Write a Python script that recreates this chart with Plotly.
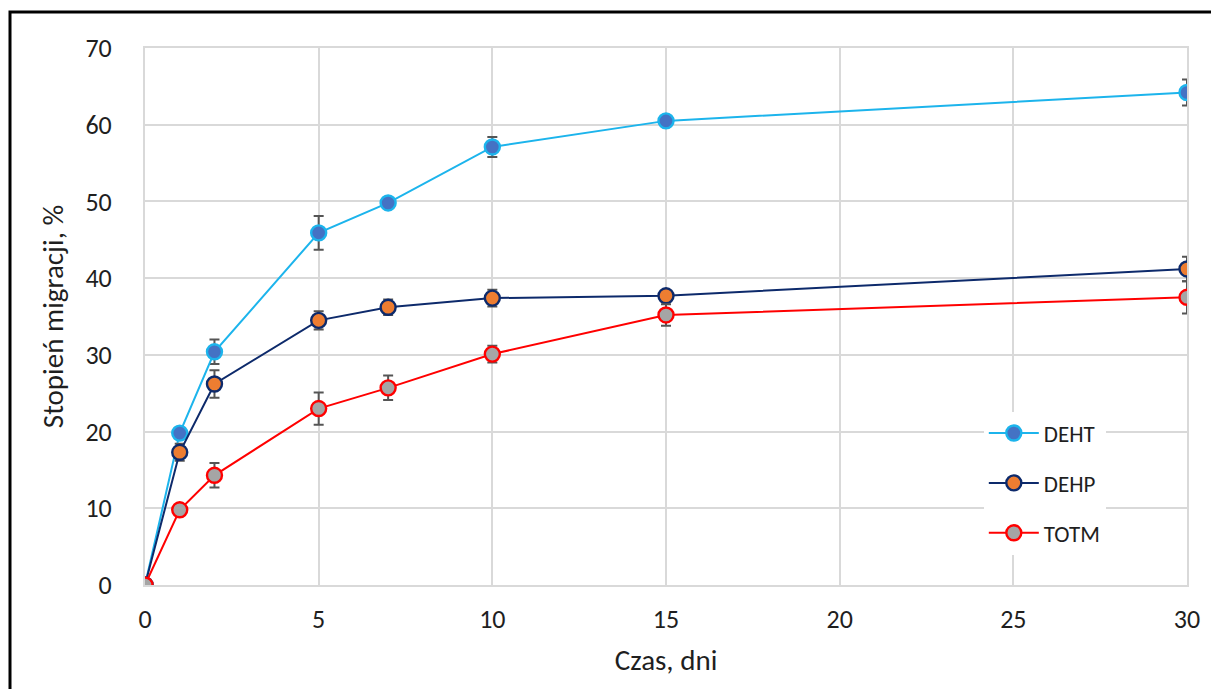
import plotly.graph_objects as go

days = [0, 1, 2, 5, 7, 10, 15, 30]

deht = [0, 19.8, 30.4, 45.9, 49.8, 57.1, 60.5, 64.2]
deht_err = [0, 0.7, 1.6, 2.2, 0.3, 1.3, 0.4, 1.7]

dehp = [0, 17.3, 26.2, 34.5, 36.2, 37.4, 37.7, 41.2]
dehp_err = [0, 1.1, 1.8, 1.2, 1.0, 1.1, 0.4, 1.6]

totm = [0, 9.8, 14.3, 23.0, 25.7, 30.1, 35.2, 37.5]
totm_err = [0, 0.4, 1.6, 2.1, 1.6, 1.1, 1.4, 2.1]

x_ticks = [0, 5, 10, 15, 20, 25, 30]
y_ticks = [0, 10, 20, 30, 40, 50, 60, 70]

FONT = "Carlito, Lato, 'Open Sans', sans-serif"
TXT = "#1f1f1f"

series = [
    ("DEHT", deht, deht_err, "#1CB4EC", "#4472C4"),
    ("DEHP", dehp, dehp_err, "#0D2A6B", "#ED7D31"),
    ("TOTM", totm, totm_err, "#FF0000", "#A5A5A5"),
]

fig = go.Figure()
for name, vals, err, lc, fc in series:
    fig.add_trace(go.Scatter(
        x=days, y=vals, name=name, mode="lines+markers",
        legendgroup=name,
        line=dict(color=lc, width=2),
        marker=dict(size=15, color=fc, line=dict(color=lc, width=2.4)),
        error_y=dict(type="data", array=err, visible=True,
                     color="#555555", thickness=2, width=5),
    ))

fig.update_layout(
    width=1211, height=689,
    margin=dict(l=145, r=24, t=48, b=104),
    paper_bgcolor="white", plot_bgcolor="white",
    font=dict(family=FONT, color=TXT, size=22),
    showlegend=True,
    legend=dict(
        x=0.805, y=0.323, xanchor="left", yanchor="top",
        bgcolor="white", borderwidth=0,
        font=dict(size=23, color=TXT, family=FONT),
        tracegroupgap=17, itemwidth=50,
    ),
    xaxis=dict(
        range=[0, 30], tickvals=x_ticks, ticktext=[str(v) for v in x_ticks],
        showgrid=True, gridcolor="#D9D9D9", gridwidth=2,
        showline=True, linecolor="#D9D9D9", linewidth=2, mirror=True,
        zeroline=False,
        ticks="outside", ticklen=10, tickcolor="rgba(0,0,0,0)",
        tickfont=dict(size=26, color=TXT),
        title=dict(text="Czas, dni", font=dict(size=29, color=TXT), standoff=15),
    ),
    yaxis=dict(
        range=[0, 70], tickvals=y_ticks, ticktext=[str(v) for v in y_ticks],
        showgrid=True, gridcolor="#D9D9D9", gridwidth=2,
        showline=True, linecolor="#D9D9D9", linewidth=2, mirror=True,
        zeroline=False,
        ticks="outside", ticklen=26, tickcolor="rgba(0,0,0,0)",
        tickfont=dict(size=26, color=TXT),
        title=dict(text="Stopień migracji, %", font=dict(size=29, color=TXT), standoff=13),
    ),
    shapes=[dict(type="rect", xref="paper", yref="paper",
                 x0=(10 - 145) / 1042, x1=1.2, y0=-0.4, y1=(585 - 12) / 537,
                 line=dict(color="black", width=3), fillcolor="rgba(0,0,0,0)",
                 layer="below")],
)

fig.write_html("out.html")
